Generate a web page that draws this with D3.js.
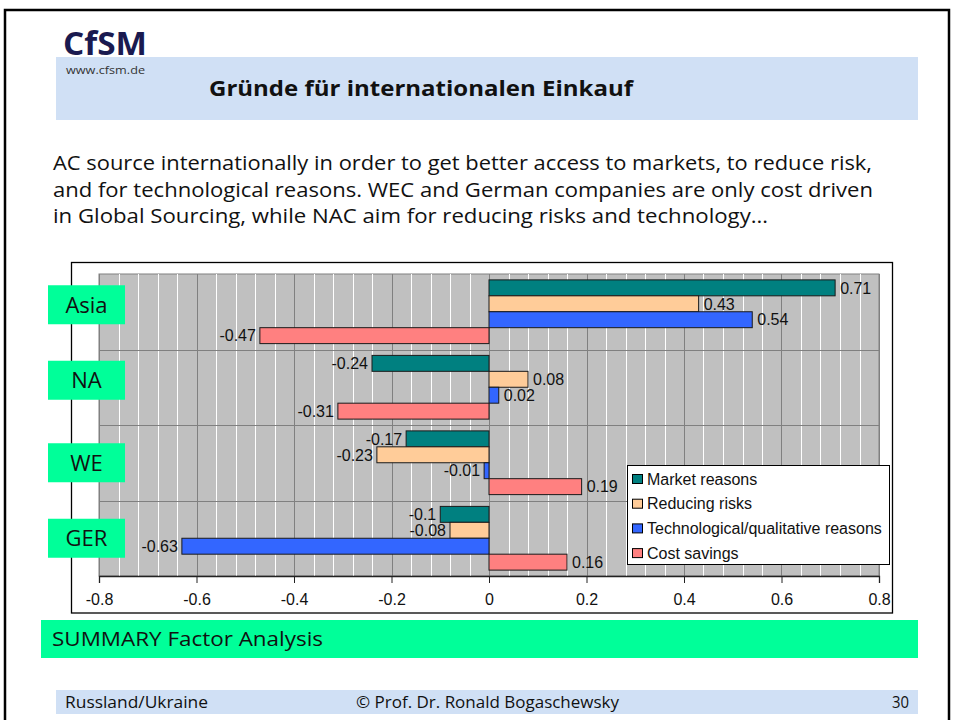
<!DOCTYPE html>
<html>
<head>
<meta charset="utf-8">
<script src="https://cdn.jsdelivr.net/npm/d3@7"></script>
<style>
  body { margin: 0; background: #fff; }
  svg { display: block; }
</style>
</head>
<body>
<div id="graph"></div>
<script>
// data
const categories = ["Asia", "NA", "WE", "GER"];
const seriesNames = ["Market reasons", "Reducing risks", "Technological/qualitative reasons", "Cost savings"];
const marketReasons = [0.71, -0.24, -0.17, -0.1];
const reducingRisks = [0.43, 0.08, -0.23, -0.08];
const techReasons = [0.54, 0.02, -0.01, -0.63];
const costSavings = [-0.47, -0.31, 0.19, 0.16];
const xTicks = [-0.8, -0.6, -0.4, -0.2, 0, 0.2, 0.4, 0.6, 0.8];
const seriesColors = ["#008080", "#FFCC99", "#3366FF", "#FF8080"];

const introLines = [
  "AC source internationally in order to get better access to markets, to reduce risk,",
  "and for technological reasons. WEC and German companies are only cost driven",
  "in Global Sourcing, while NAC aim for reducing risks and technology…"
];

document.addEventListener('DOMContentLoaded', () => {
  let width = 955, height = 720;
  let plotLeft = 99, plotRight = 879, plotTop = 274, plotBottom = 576;
  let slideFont = "'Open Sans', 'Noto Sans', sans-serif";
  let chartFont = "'Liberation Sans', Arial, sans-serif";

  let svg = d3.select("#graph").append("svg").attr("width", width).attr("height", height);

  // slide frame
  svg.append("rect").attr("x", 5).attr("y", 10).attr("width", 944).attr("height", 730)
    .attr("fill", "none").attr("stroke", "#000").attr("stroke-width", 2.5);

  // header band
  svg.append("rect").attr("x", 56).attr("y", 57).attr("width", 862).attr("height", 63).attr("fill", "#D0E0F5");
  svg.append("text").attr("x", 63).attr("y", 55).text("CfSM")
    .style("font-family", slideFont).style("font-weight", "bold").style("font-size", "32px")
    .attr("fill", "#1A1A50").attr("textLength", 84).attr("lengthAdjust", "spacingAndGlyphs");
  svg.append("text").attr("x", 66).attr("y", 74).text("www.cfsm.de")
    .style("font-family", slideFont).style("font-size", "10.5px").attr("fill", "#333")
    .attr("textLength", 79).attr("lengthAdjust", "spacingAndGlyphs");
  svg.append("text").attr("x", 209).attr("y", 96).text("Gründe für internationalen Einkauf")
    .style("font-family", slideFont).style("font-weight", "bold").style("font-size", "22px")
    .attr("fill", "#111").attr("textLength", 424).attr("lengthAdjust", "spacingAndGlyphs");

  // intro text
  let introLen = [819, 820, 715];
  svg.append("g").selectAll("text").data(introLines).enter().append("text")
    .attr("x", 53).attr("y", (d, i) => 170 + i * 26.5)
    .attr("textLength", (d, i) => introLen[i]).attr("lengthAdjust", "spacingAndGlyphs")
    .style("font-family", slideFont).style("font-size", "20px").attr("fill", "#111")
    .text(d => d);

  // chart box
  svg.append("rect").attr("x", 71.5).attr("y", 262.5).attr("width", 821).attr("height", 350.5)
    .attr("fill", "#fff").attr("stroke", "#000").attr("stroke-width", 1.3);

  let x = d3.scaleLinear().domain([-0.8, 0.8]).range([plotLeft, plotRight]);
  let y = d3.scaleBand().domain(categories).range([plotTop, plotBottom]).padding(0);
  let ySub = d3.scaleBand().domain(seriesNames).range([0, y.bandwidth()]).paddingInner(0).paddingOuter(0.37);

  // plot area
  svg.append("rect").attr("x", plotLeft).attr("y", plotTop)
    .attr("width", plotRight - plotLeft).attr("height", plotBottom - plotTop)
    .attr("fill", "#C0C0C0").attr("stroke", "#808080");

  let minor = d3.range(-20, 21).map(i => i * 0.04);
  svg.append("g").selectAll("line").data(minor).enter().append("line")
    .attr("x1", d => Math.round(x(d)) + 0.5).attr("x2", d => Math.round(x(d)) + 0.5)
    .attr("y1", plotTop).attr("y2", plotBottom)
    .attr("stroke", "#fff").attr("stroke-width", 1);
  svg.append("g").selectAll("line").data(xTicks).enter().append("line")
    .attr("x1", d => Math.round(x(d)) + 0.5).attr("x2", d => Math.round(x(d)) + 0.5)
    .attr("y1", plotTop).attr("y2", plotBottom)
    .attr("stroke", "#808080").attr("stroke-width", 1);
  svg.append("g").selectAll("line").data(categories.slice(1)).enter().append("line")
    .attr("x1", plotLeft).attr("x2", plotRight)
    .attr("y1", d => Math.round(y(d)) + 0.5).attr("y2", d => Math.round(y(d)) + 0.5)
    .attr("stroke", "#808080").attr("stroke-width", 1.2);

  // bars
  let seriesValues = [marketReasons, reducingRisks, techReasons, costSavings];
  let data = [];
  categories.forEach((c, ci) => {
    seriesNames.forEach((s, si) => {
      data.push({cat: c, series: s, idx: si, v: seriesValues[si][ci]});
    });
  });

  svg.append("g").selectAll("rect").data(data).enter().append("rect")
    .attr("x", d => x(Math.min(0, d.v)))
    .attr("y", d => y(d.cat) + ySub(d.series))
    .attr("width", d => Math.abs(x(d.v) - x(0)))
    .attr("height", ySub.bandwidth())
    .attr("fill", d => seriesColors[d.idx])
    .attr("stroke", "#1a1a1a").attr("stroke-width", 1);

  svg.append("g").selectAll("text").data(data).enter().append("text")
    .attr("x", d => d.v < 0 ? x(d.v) - 4 : x(d.v) + 5)
    .attr("y", d => y(d.cat) + ySub(d.series) + ySub.bandwidth() / 2)
    .attr("dy", "0.36em")
    .attr("text-anchor", d => d.v < 0 ? "end" : "start")
    .style("font-family", chartFont).style("font-size", "16px").attr("fill", "#111")
    .text(d => String(d.v));

  // x axis
  let xAxis = d3.axisBottom(x).tickValues(xTicks).tickSize(7).tickPadding(11).tickFormat(d => String(d));
  let ax = svg.append("g").attr("transform", "translate(0," + plotBottom + ")").call(xAxis);
  ax.select(".domain").attr("stroke", "#222").attr("stroke-width", 1.3);
  ax.selectAll(".tick line").attr("stroke", "#222");
  ax.selectAll("text").style("font-family", chartFont).style("font-size", "16px").attr("fill", "#111");

  // category labels (slide text boxes)
  let labelShift = [-7, -7, 0, 0];
  let cl = svg.append("g").selectAll("g").data(categories).enter().append("g")
    .attr("transform", (d, i) => "translate(0," + (y(d) + y.bandwidth() / 2 + labelShift[i]) + ")");
  cl.append("rect").attr("x", 48).attr("y", -19.5).attr("width", 77).attr("height", 39).attr("fill", "#00FF99");
  cl.append("text").attr("x", 86.5).attr("dy", "0.36em").attr("text-anchor", "middle")
    .style("font-family", slideFont).style("font-size", "22px").attr("fill", "#111")
    .text(d => d);

  // legend
  let lg = svg.append("g").attr("transform", "translate(627,465)");
  lg.append("rect").attr("x", 0.5).attr("y", 0.5).attr("width", 262).attr("height", 99)
    .attr("fill", "#fff").attr("stroke", "#000");
  let li = lg.selectAll("g").data(seriesNames).enter().append("g")
    .attr("transform", (d, i) => "translate(0," + (14 + i * 24.7) + ")");
  li.append("rect").attr("x", 5.5).attr("y", -4.5).attr("width", 10).attr("height", 9)
    .attr("fill", (d, i) => seriesColors[i]).attr("stroke", "#000");
  li.append("text").attr("x", 20).attr("dy", "0.36em")
    .style("font-family", chartFont).style("font-size", "16px").attr("fill", "#111")
    .text(d => d);

  // summary band
  svg.append("rect").attr("x", 41).attr("y", 620).attr("width", 877).attr("height", 38).attr("fill", "#00FF99");
  svg.append("text").attr("x", 52).attr("y", 646).text("SUMMARY Factor Analysis")
    .style("font-family", slideFont).style("font-size", "20px").attr("fill", "#111")
    .attr("textLength", 271).attr("lengthAdjust", "spacingAndGlyphs");

  // footer
  svg.append("rect").attr("x", 56).attr("y", 690).attr("width", 862).attr("height", 24).attr("fill", "#D0E0F5");
  let foot = [["Russland/Ukraine", 65, "start", 143], ["© Prof. Dr. Ronald Bogaschewsky", 356, "start", 263], ["30", 909, "end", 17]];
  svg.append("g").selectAll("text").data(foot).enter().append("text")
    .attr("x", d => d[1]).attr("y", 708).attr("text-anchor", d => d[2])
    .attr("textLength", d => d[3]).attr("lengthAdjust", "spacingAndGlyphs")
    .style("font-family", slideFont).style("font-size", "16px").attr("fill", "#111")
    .text(d => d[0]);
});
</script>
</body>
</html>
